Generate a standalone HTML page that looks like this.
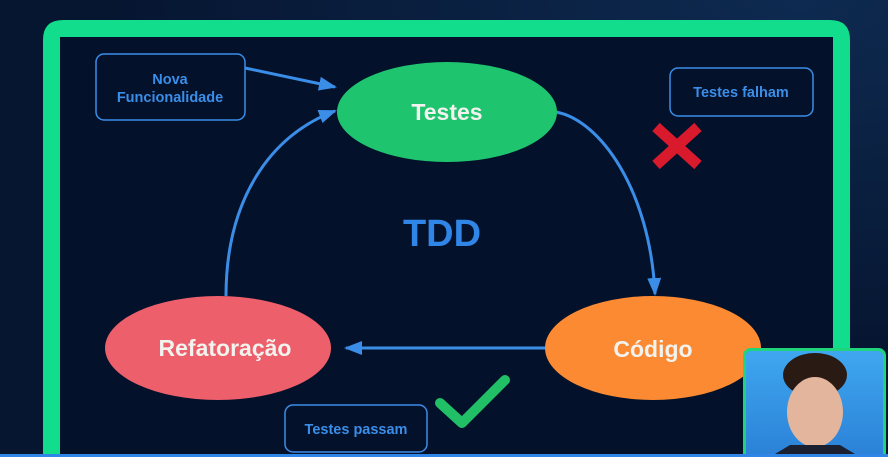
<!DOCTYPE html>
<html><head><meta charset="utf-8"><style>
html,body{margin:0;padding:0;width:888px;height:457px;overflow:hidden;background:#061530;}
svg{display:block}
text{font-family:"Liberation Sans",sans-serif;font-weight:bold}
</style></head><body>
<svg width="888" height="457" viewBox="0 0 888 457">
<defs>
<radialGradient id="bg" cx="0.9" cy="0" r="0.8"><stop offset="0" stop-color="#0e2a50"/><stop offset="1" stop-color="#061530"/></radialGradient>
<linearGradient id="cam" x1="0" y1="0" x2="0" y2="1"><stop offset="0" stop-color="#3fa8f0"/><stop offset="1" stop-color="#2a7fd6"/></linearGradient>
<marker id="ah" markerWidth="18" markerHeight="14" refX="16" refY="7" orient="auto" markerUnits="userSpaceOnUse"><path d="M0,0 L18,7 L0,14 z" fill="#3b8ee8"/></marker>
<clipPath id="c"><rect width="888" height="457"/></clipPath>
</defs>
<g clip-path="url(#c)">
<rect width="888" height="457" fill="url(#bg)"/>
<path d="M43,457 V40 Q43,20 63,20 H830 Q850,20 850,40 V457 H833 V47 Q833,37 823,37 H70 Q60,37 60,47 V457 Z" fill="#12dd8c"/>
<rect x="60" y="37" width="773" height="420" fill="#03112b"/>
<g stroke="#3b8ee8" stroke-width="3" fill="none">
<line x1="245" y1="68" x2="335" y2="87" marker-end="url(#ah)"/>
<path d="M226,296 C226,200 270,135 335,111" marker-end="url(#ah)"/>
<path d="M556,112 C600,120 650,190 655,294" marker-end="url(#ah)"/>
<line x1="545" y1="348" x2="346" y2="348" marker-end="url(#ah)"/>
</g>
<g fill="none" stroke="#3b8ee8" stroke-width="1.5">
<rect x="96" y="54" width="149" height="66" rx="8"/>
<rect x="670" y="68" width="143" height="48" rx="8"/>
<rect x="285" y="405" width="142" height="47" rx="8"/>
</g>
<g fill="#3b8ee8" font-size="14.5" text-anchor="middle">
<text x="170" y="84">Nova</text>
<text x="170" y="102">Funcionalidade</text>
<text x="741" y="97">Testes falham</text>
<text x="356" y="434">Testes passam</text>
</g>
<ellipse cx="447" cy="112" rx="110" ry="50" fill="#1fc46e"/>
<ellipse cx="218" cy="348" rx="113" ry="52" fill="#ec5f6b"/>
<ellipse cx="653" cy="348" rx="108" ry="52" fill="#fb8a33"/>
<g fill="#f2f2ee" font-size="23" text-anchor="middle">
<text x="447" y="120">Testes</text>
<text x="225" y="356">Refatoração</text>
<text x="653" y="357">Código</text>
</g>
<text x="442" y="246" font-size="38" fill="#2f86e6" text-anchor="middle">TDD</text>
<g stroke="#d9192c" stroke-width="11">
<line x1="656" y1="127" x2="698" y2="165"/>
<line x1="698" y1="127" x2="656" y2="165"/>
</g>
<polyline points="440,403 462,423 505,380" fill="none" stroke="#21c067" stroke-width="10" stroke-linecap="round" stroke-linejoin="round"/>
<rect x="744.5" y="349.5" width="140" height="112" rx="6" fill="url(#cam)" stroke="#1fd47a" stroke-width="3"/>
<ellipse cx="815" cy="375" rx="32" ry="22" fill="#2a1a14"/>
<ellipse cx="815" cy="412" rx="28" ry="35" fill="#e2b59c"/>
<path d="M790,445 L770,457 L860,457 L840,445 z" fill="#1a2030"/>
<rect x="0" y="454" width="888" height="3" fill="#2f86e6"/>
</g>
</svg>
</body></html>
